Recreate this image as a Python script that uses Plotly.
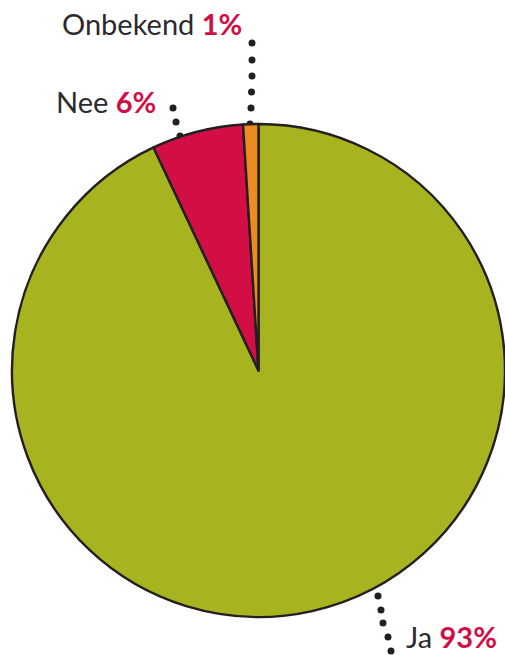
import plotly.graph_objects as go

labels = ["Ja", "Nee", "Onbekend"]
values = [93, 6, 1]
colors = ["#a8b320", "#d30e45", "#ee8a22"]
pct_color = "#d10f47"
text_color = "#2b2a2e"

W, H = 505, 655
cx, cy, R = 258.5, 370.5, 246.5

fig = go.Figure()
fig.add_trace(go.Pie(
    labels=labels, values=values, sort=False, direction="clockwise", rotation=0,
    marker=dict(colors=colors, line=dict(color="#231f20", width=2.4)),
    textinfo="none", hoverinfo="label+percent", showlegend=False,
    domain=dict(x=[(cx - R) / W, (cx + R) / W], y=[1 - (cy + R) / H, 1 - (cy - R) / H]),
))

# leader dots (pixel coordinates of the page)
dots_x = [250, 251, 251.5, 252, 252, 252,   180, 176, 173,   378, 381, 383, 388, 391]
dots_y = [124, 108, 92, 76, 60, 43,          136, 122, 108,   596, 610, 623, 637, 651]
fig.add_trace(go.Scatter(
    x=dots_x, y=dots_y, mode="markers",
    marker=dict(size=7, color="#231f20"), hoverinfo="skip", showlegend=False,
    xaxis="x", yaxis="y",
))

ann_text = [
    ("Onbekend", "1%", 61, 24),
    ("Nee", "6%", 55, 101),
    ("Ja", "93%", 405, 636),
]
for name, pct, x, y in ann_text:
    fig.add_annotation(
        x=x / W, y=1 - y / H, xref="paper", yref="paper",
        xanchor="left", yanchor="middle", showarrow=False, borderpad=0,
        text=f"{name} <b><span style='color:{pct_color}'>{pct}</span></b>",
        font=dict(family="Lato", size=29, color=text_color),
    )

fig.update_layout(
    width=W, height=H,
    margin=dict(l=0, r=0, t=0, b=0),
    paper_bgcolor="white", plot_bgcolor="rgba(0,0,0,0)",
    xaxis=dict(range=[0, W], visible=False, fixedrange=True),
    yaxis=dict(range=[H, 0], visible=False, fixedrange=True),
)

fig.write_html("out.html", config={"displayModeBar": False},
               post_script="document.body.style.margin='0';document.body.style.overflow='hidden';")
